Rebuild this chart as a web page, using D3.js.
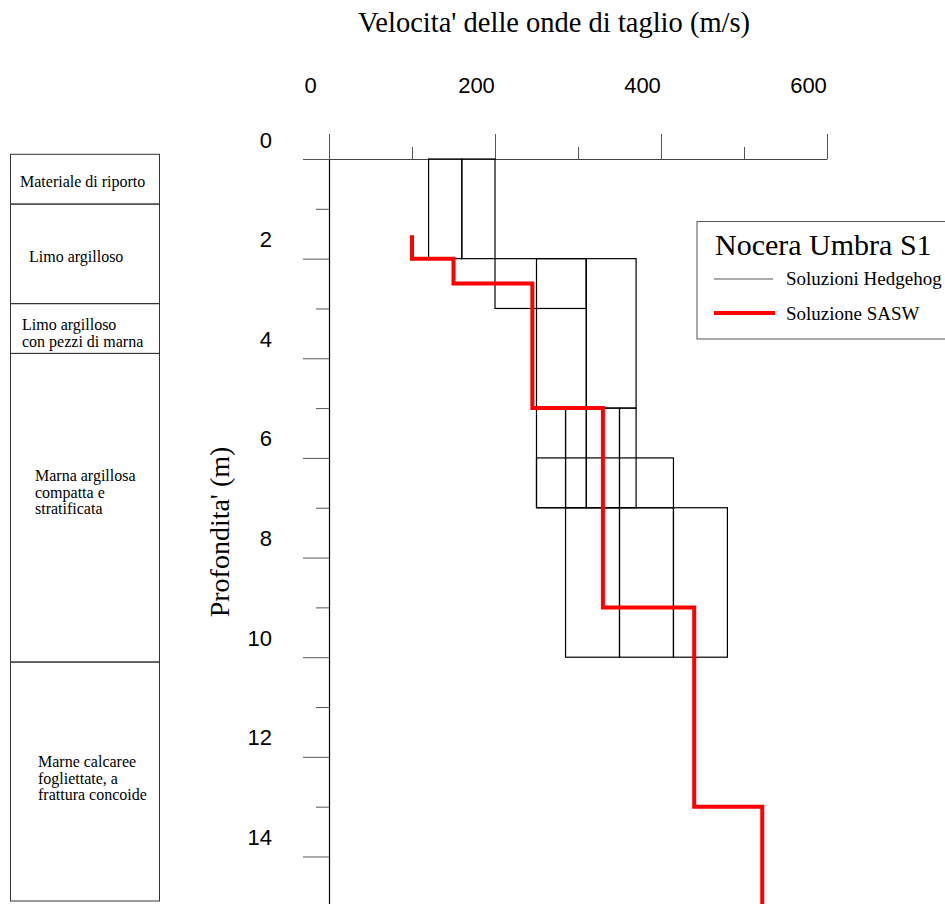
<!DOCTYPE html>
<html>
<head>
<meta charset="utf-8">
<script src="https://cdn.jsdelivr.net/npm/d3@7/dist/d3.min.js"></script>
<style>
  html, body { margin: 0; padding: 0; background: #fff; }
  svg { display: block; }
</style>
</head>
<body>
<svg id="chart" width="945" height="904"></svg>
<script>
// ---------------- DATA ----------------
const velocityMajorTicks = [0, 200, 400, 600];
const velocityMinorTicks = [100, 300, 500];
const depthMajorTicks = [0, 2, 4, 6, 8, 10, 12, 14];
const depthMinorTicks = [1, 3, 5, 7, 9, 11, 13];

// Hedgehog solution cells (velocity range x depth range)
const hedgeVmin   = [120, 160, 200, 250, 310, 250, 285, 310, 350, 250, 285, 350, 415];
const hedgeVmax   = [160, 200, 310, 310, 370, 285, 310, 350, 370, 415, 350, 415, 480];
const hedgeTop    = [0,   0,   2,   2,   2,   5,   5,   5,   5,   6,   7,   7,   7];
const hedgeBottom = [2,   2,   3,   5,   5,   7,   7,   7,   7,   7,   10,  10,  10];

// SASW solution (layered profile)
const saswTop      = [1.53, 2,   2.5, 5,   9,   13];
const saswBottom   = [2,    2.5, 5,   9,   13,  15];
const saswVelocity = [100,  150, 245, 330, 440, 522];

// Stratigraphic column
const strataTop    = [0, 1, 3, 4, 10.2];
const strataBottom = [1, 3, 4, 10.2, 15];
const strataLabels = [
  ["Materiale di riporto"],
  ["Limo argilloso"],
  ["Limo argilloso", "con pezzi di marna"],
  ["Marna argillosa", "compatta e", "stratificata"],
  ["Marne calcaree", "fogliettate, a", "frattura concoide"]
];

const titleText  = "Velocita' delle onde di taglio (m/s)";
const yTitleText = "Profondita' (m)";
const legendTitle = "Nocera Umbra S1";
const legendHedge = "Soluzioni Hedgehog";
const legendSasw  = "Soluzione SASW";

// ---------------- LAYOUT / STYLE ----------------
const labelX  = [20, 29, 22, 35, 38];
const labelDy = [3, 3, 5, -15, -3];
const serif = "'Liberation Serif', 'Times New Roman', serif";
const sans  = "'Liberation Sans', Arial, sans-serif";

const svg = d3.select("#chart");

const x = d3.scaleLinear().domain([0, 600]).range([329, 827]);
const y = d3.scaleLinear().domain([0, 15]).range([159, 906.3]);
const colY = d3.scaleLinear().domain([0, 15]).range([154.3, 901]);

// ---------------- TITLES ----------------
svg.append("text")
  .attr("x", 554).attr("y", 32)
  .attr("text-anchor", "middle")
  .style("font-family", serif).style("font-size", "28.5px")
  .text(titleText);

svg.append("text")
  .attr("transform", "translate(229,532) rotate(-90)")
  .attr("text-anchor", "middle")
  .style("font-family", serif).style("font-size", "28px")
  .text(yTitleText);

// ---------------- AXES ----------------
const gTop = svg.append("g").attr("transform", `translate(0,${y(0)})`);
gTop.call(d3.axisTop(x).tickValues(velocityMajorTicks).tickSizeInner(25).tickSizeOuter(0));
gTop.select(".domain").attr("stroke", "#444");
gTop.selectAll(".tick line").attr("stroke", "#555");
gTop.selectAll(".tick text")
  .attr("x", -19).attr("y", -66).attr("dy", 0)
  .attr("fill", "#000")
  .style("font-family", sans).style("font-size", "22px");

const gTopMinor = svg.append("g").attr("transform", `translate(0,${y(0)})`);
gTopMinor.call(d3.axisTop(x).tickValues(velocityMinorTicks).tickSizeInner(12).tickSizeOuter(0).tickFormat(""));
gTopMinor.select(".domain").remove();
gTopMinor.selectAll(".tick line").attr("stroke", "#555");

const gLeft = svg.append("g").attr("transform", `translate(${x(0)},0)`);
gLeft.call(d3.axisLeft(y).tickValues(depthMajorTicks).tickSizeInner(26).tickSizeOuter(0));
gLeft.select(".domain").attr("stroke", "#000").attr("stroke-width", 1.2);
gLeft.selectAll(".tick line").attr("stroke", "#555");
gLeft.selectAll(".tick text")
  .attr("x", -57).attr("y", -12).attr("dy", 0)
  .attr("fill", "#000")
  .style("font-family", sans).style("font-size", "22px");

const gLeftMinor = svg.append("g").attr("transform", `translate(${x(0)},0)`);
gLeftMinor.call(d3.axisLeft(y).tickValues(depthMinorTicks).tickSizeInner(13).tickSizeOuter(0).tickFormat(""));
gLeftMinor.select(".domain").remove();
gLeftMinor.selectAll(".tick line").attr("stroke", "#555");

// ---------------- HEDGEHOG ----------------
const hedge = hedgeVmin.map((v, i) => ({ v0: v, v1: hedgeVmax[i], d0: hedgeTop[i], d1: hedgeBottom[i] }));
svg.append("g").selectAll("rect").data(hedge).join("rect")
  .attr("x", d => x(d.v0))
  .attr("y", d => y(d.d0))
  .attr("width", d => x(d.v1) - x(d.v0))
  .attr("height", d => y(d.d1) - y(d.d0))
  .attr("fill", "none")
  .attr("stroke", "#000")
  .attr("stroke-width", 1.2);

// ---------------- SASW ----------------
const saswPts = [];
saswVelocity.forEach((v, i) => {
  saswPts.push([v, saswTop[i]]);
  saswPts.push([v, saswBottom[i]]);
});
svg.append("path")
  .datum(saswPts)
  .attr("d", d3.line().x(d => x(d[0])).y(d => y(d[1])))
  .attr("fill", "none")
  .attr("stroke", "#ff0000")
  .attr("stroke-width", 4)
  .attr("stroke-linejoin", "miter");

// ---------------- LEGEND ----------------
const lg = svg.append("g");
lg.append("rect")
  .attr("x", 697).attr("y", 221.5).attr("width", 260).attr("height", 117.5)
  .attr("fill", "#fff").attr("stroke", "#555").attr("stroke-width", 1);
lg.append("text")
  .attr("x", 715).attr("y", 255)
  .style("font-family", serif).style("font-size", "30px")
  .text(legendTitle);
lg.append("line")
  .attr("x1", 714).attr("x2", 773).attr("y1", 279).attr("y2", 279)
  .attr("stroke", "#555").attr("stroke-width", 1);
lg.append("text")
  .attr("x", 786).attr("y", 285)
  .style("font-family", serif).style("font-size", "19px")
  .text(legendHedge);
lg.append("line")
  .attr("x1", 714).attr("x2", 775).attr("y1", 313).attr("y2", 313)
  .attr("stroke", "#ff0000").attr("stroke-width", 4);
lg.append("text")
  .attr("x", 786).attr("y", 319.5)
  .style("font-family", serif).style("font-size", "19px")
  .text(legendSasw);

// ---------------- STRATIGRAPHIC COLUMN ----------------
const col = svg.append("g");
const strata = strataTop.map((t, i) => ({ t, b: strataBottom[i], lines: strataLabels[i], i }));
col.selectAll("rect").data(strata).join("rect")
  .attr("x", 10.5).attr("width", 149)
  .attr("y", d => colY(d.t))
  .attr("height", d => colY(d.b) - colY(d.t))
  .attr("fill", "none")
  .attr("stroke", "#333").attr("stroke-width", 1);

const lineH = 16.5;
col.selectAll("text").data(strata).join("text")
  .style("font-family", serif).style("font-size", "16px")
  .attr("fill", "#000")
  .each(function(d) {
    const mid = (colY(d.t) + colY(d.b)) / 2;
    const first = mid - (d.lines.length - 1) * lineH / 2 + 5 + labelDy[d.i];
    d3.select(this).selectAll("tspan").data(d.lines).join("tspan")
      .attr("x", labelX[d.i])
      .attr("y", (s, k) => first + k * lineH)
      .text(s => s);
  });
</script>
</body>
</html>
